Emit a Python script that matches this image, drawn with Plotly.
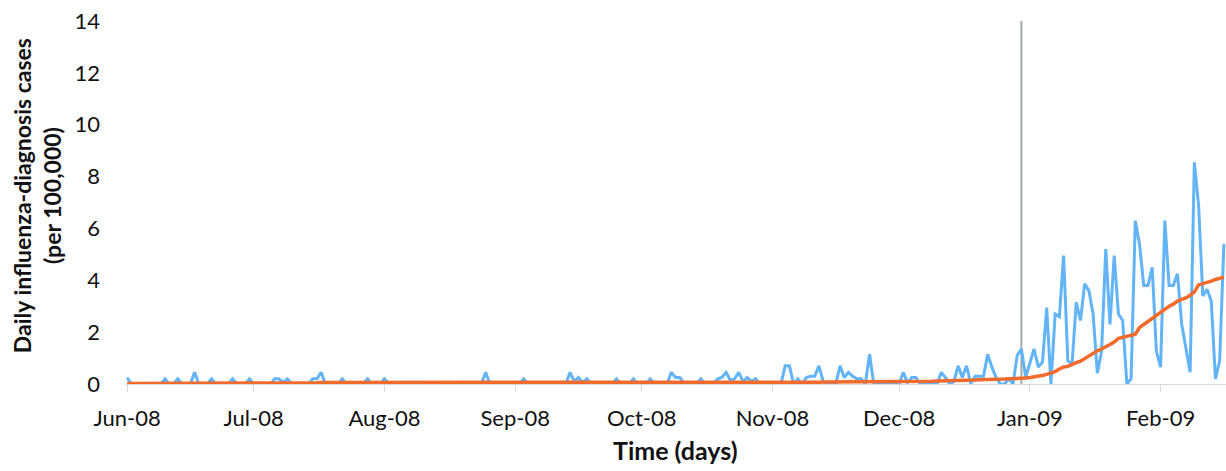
import pandas as pd
import plotly.graph_objects as go

# ---------------- data ----------------
start_date = "2008-06-01"
marker_date = "2008-12-30"

# Daily influenza-diagnosis cases (per 100,000), blue series, by month
daily_jun = [0.25, 0, 0, 0, 0, 0, 0, 0, 0, 0.2,
             0, 0, 0.2, 0, 0, 0, 0.45, 0, 0, 0,
             0.2, 0, 0, 0, 0, 0.2, 0, 0, 0, 0.2]
daily_jul = [0, 0, 0, 0, 0, 0.2, 0.2, 0.05, 0.2, 0,
             0, 0, 0, 0, 0.2, 0.2, 0.45, 0, 0, 0,
             0, 0.2, 0, 0, 0, 0, 0, 0.2, 0, 0,
             0]
daily_aug = [0.2, 0, 0, 0, 0, 0, 0, 0, 0, 0,
             0, 0, 0, 0, 0, 0, 0, 0, 0, 0,
             0, 0, 0, 0, 0.45, 0, 0, 0, 0, 0,
             0]
daily_sep = [0, 0, 0.2, 0, 0, 0, 0, 0, 0, 0,
             0, 0, 0, 0.45, 0.1, 0.25, 0.05, 0.2, 0, 0,
             0, 0, 0, 0, 0.2, 0, 0, 0, 0.2, 0]
daily_oct = [0, 0, 0.2, 0, 0, 0, 0, 0.45, 0.25, 0.25,
             0.05, 0, 0, 0, 0.2, 0, 0, 0, 0.2, 0.25,
             0.45, 0.15, 0.2, 0.45, 0.1, 0.25, 0.1, 0.2, 0, 0,
             0]
daily_nov = [0, 0, 0, 0.7, 0.7, 0, 0.2, 0, 0.25, 0.3,
             0.3, 0.7, 0.1, 0, 0, 0, 0.7, 0.25, 0.45, 0.3,
             0.2, 0.2, 0, 1.15, 0, 0, 0, 0, 0, 0]
daily_dec = [0, 0.45, 0.05, 0.25, 0.25, 0, 0, 0, 0, 0,
             0.45, 0.25, 0, 0.1, 0.7, 0.25, 0.7, 0, 0.3, 0.3,
             0.3, 1.15, 0.65, 0.25, 0, 0, 0.2, 0, 1.1, 1.35,
             0.25]
daily_jan = [0.8, 1.35, 0.65, 0.85, 2.95, 0, 2.7, 2.6, 4.95, 0.9,
             0.75, 3.15, 2.45, 3.86, 3.6, 2.7, 0.42, 1.25, 5.2, 2.3,
             4.95, 2.7, 2.45, 0, 0.2, 6.3, 5.4, 3.8, 3.8, 4.5,
             1.25]
daily_feb = [0.65, 6.3, 3.8, 3.8, 4.25, 2.3, 1.4, 0.45, 8.55, 6.9,
             3.4, 3.65, 3.2, 0.2, 0.9, 5.4]

# Trend series (orange), by month
trend_jun = [0.02, 0.02, 0.02, 0.02, 0.02, 0.02, 0.02, 0.02, 0.02, 0.03,
             0.03, 0.03, 0.03, 0.03, 0.03, 0.03, 0.03, 0.03, 0.03, 0.03,
             0.03, 0.03, 0.03, 0.03, 0.03, 0.03, 0.03, 0.03, 0.03, 0.03]
trend_jul = [0.03, 0.03, 0.03, 0.03, 0.03, 0.03, 0.03, 0.03, 0.03, 0.03,
             0.03, 0.03, 0.03, 0.03, 0.04, 0.05, 0.06, 0.06, 0.06, 0.06,
             0.06, 0.05, 0.05, 0.05, 0.05, 0.04, 0.04, 0.04, 0.04, 0.04,
             0.04]
trend_aug = [0.04, 0.04, 0.04, 0.04, 0.04, 0.04, 0.04, 0.04, 0.04, 0.04,
             0.04, 0.04, 0.04, 0.04, 0.04, 0.04, 0.04, 0.04, 0.04, 0.04,
             0.04, 0.04, 0.04, 0.04, 0.04, 0.04, 0.04, 0.04, 0.04, 0.04,
             0.04]
trend_sep = [0.04, 0.04, 0.04, 0.04, 0.04, 0.04, 0.04, 0.04, 0.04, 0.04,
             0.04, 0.04, 0.04, 0.04, 0.04, 0.04, 0.04, 0.04, 0.04, 0.04,
             0.04, 0.04, 0.04, 0.04, 0.04, 0.04, 0.04, 0.04, 0.04, 0.04]
trend_oct = [0.04, 0.04, 0.04, 0.04, 0.04, 0.04, 0.04, 0.04, 0.04, 0.04,
             0.05, 0.05, 0.05, 0.05, 0.05, 0.05, 0.05, 0.05, 0.05, 0.05,
             0.05, 0.06, 0.06, 0.06, 0.06, 0.06, 0.06, 0.06, 0.06, 0.06,
             0.06]
trend_nov = [0.06, 0.06, 0.06, 0.06, 0.06, 0.07, 0.07, 0.07, 0.07, 0.07,
             0.07, 0.07, 0.08, 0.08, 0.08, 0.08, 0.08, 0.08, 0.08, 0.08,
             0.09, 0.09, 0.09, 0.09, 0.09, 0.10, 0.10, 0.10, 0.10, 0.10]
trend_dec = [0.10, 0.10, 0.10, 0.10, 0.10, 0.11, 0.11, 0.11, 0.11, 0.12,
             0.12, 0.12, 0.13, 0.13, 0.13, 0.14, 0.14, 0.15, 0.15, 0.16,
             0.16, 0.17, 0.17, 0.18, 0.19, 0.19, 0.20, 0.20, 0.21, 0.22,
             0.23]
trend_jan = [0.25, 0.27, 0.30, 0.33, 0.37, 0.41, 0.48, 0.58, 0.66, 0.68,
             0.76, 0.82, 0.88, 0.98, 1.10, 1.20, 1.28, 1.35, 1.42, 1.52,
             1.62, 1.76, 1.80, 1.84, 1.87, 1.92, 2.18, 2.30, 2.38, 2.50,
             2.65]
trend_feb = [2.75, 2.88, 3.00, 3.08, 3.20, 3.26, 3.32, 3.42, 3.55, 3.82,
             3.86, 3.90, 3.97, 4.03, 4.08, 4.12]

daily = (daily_jun + daily_jul + daily_aug + daily_sep + daily_oct
         + daily_nov + daily_dec + daily_jan + daily_feb)
trend = (trend_jun + trend_jul + trend_aug + trend_sep + trend_oct
         + trend_nov + trend_dec + trend_jan + trend_feb)
dates = pd.date_range(start_date, periods=len(daily), freq="D")

y_title = "Daily influenza-diagnosis cases<br>(per 100,000)"
x_title = "Time (days)"

# ---------------- figure ----------------
FONT = "Lato, 'Open Sans', sans-serif"
TXT = "#111111"
fig = go.Figure()
fig.add_trace(go.Scatter(x=dates, y=daily, mode="lines",
                         line=dict(color="#62B4F7", width=3),
                         hoverinfo="x+y"))
fig.add_trace(go.Scatter(x=dates, y=trend, mode="lines",
                         line=dict(color="#F26A2C", width=3.5),
                         hoverinfo="x+y"))

fig.add_shape(type="line", xref="x", yref="y",
              x0=marker_date, x1=marker_date, y0=0, y1=14,
              line=dict(color="#A3ABAA", width=2), layer="below")

fig.update_layout(
    width=1226, height=471,
    margin=dict(l=125, r=0, t=21, b=87),
    paper_bgcolor="white", plot_bgcolor="white",
    showlegend=False,
    font=dict(family=FONT, size=22, color=TXT),
)
fig.update_xaxes(
    range=["2008-05-31 12:00", "2009-02-16 12:00"],
    tick0="2008-06-01", dtick="M1", tickformat="%b-%y",
    showgrid=False, zeroline=False,
    showline=True, linecolor="#D9D9D9", linewidth=1,
    ticks="outside", ticklen=7, tickcolor="#D9D9D9", tickwidth=1,
    ticklabelstandoff=8,
    tickfont=dict(family=FONT, size=22, color=TXT),
)
fig.update_yaxes(
    range=[0, 14], dtick=2,
    showgrid=False, zeroline=False, showline=False,
    ticks="", ticklabelstandoff=24,
    tickfont=dict(family=FONT, size=22, color=TXT),
)

fig.add_annotation(text=y_title, xref="paper", yref="paper",
                   x=-0.08, y=0.52, xanchor="center", yanchor="middle",
                   textangle=-90, showarrow=False,
                   font=dict(family=FONT, size=23, color=TXT, weight="bold"))
fig.add_annotation(text=x_title, xref="paper", yref="paper",
                   x=0.5, y=-0.182, xanchor="center", yanchor="middle",
                   showarrow=False,
                   font=dict(family=FONT, size=25, color=TXT, weight="bold"))

fig.write_html(
    "out.html",
    config={"displayModeBar": False},
    post_script="document.body.style.margin='0';document.body.style.overflow='hidden';",
)
